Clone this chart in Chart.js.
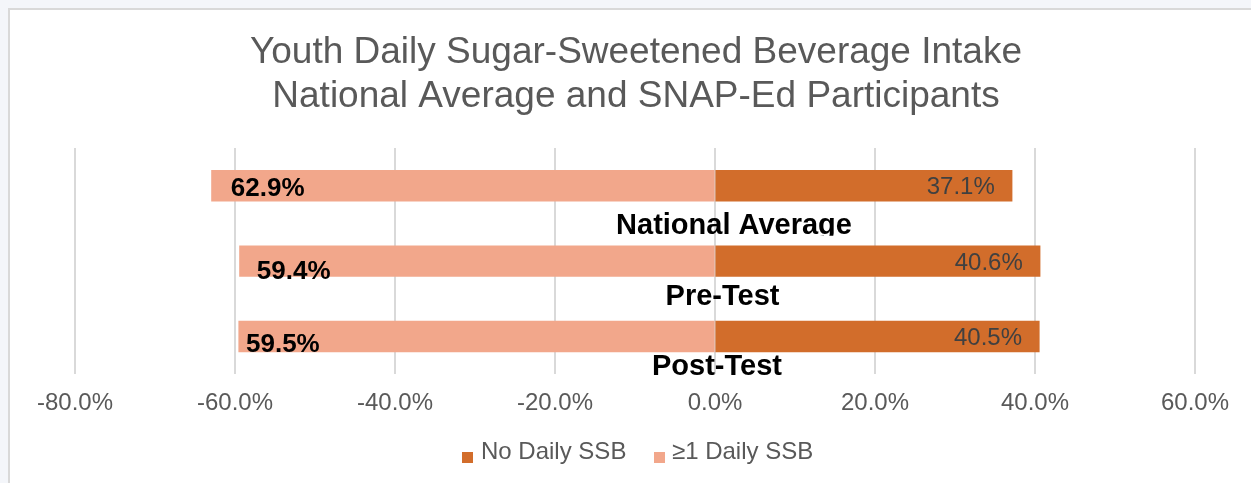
<!DOCTYPE html>
<html>
<head>
<meta charset="utf-8">
<script src="https://cdn.jsdelivr.net/npm/chart.js@4/dist/chart.umd.min.js"></script>
<style>
  html, body { margin: 0; padding: 0; background: #f4f6fa; width: 1251px; height: 483px; overflow: hidden; }
  #frame { position: absolute; left: 8px; top: 8px; width: 1300px; height: 520px; background: #ffffff; border-left: 2px solid #d9d9d9; border-top: 2px solid #d9d9d9; }
  #wrap { position: absolute; left: 0; top: 0; width: 1251px; height: 483px; }
</style>
</head>
<body>
<div id="frame"></div>
<div id="wrap"><canvas id="c" width="1251" height="483"></canvas></div>
<script>
const categories = ["National Average", "Pre-Test", "Post-Test"];
const noDailySSB = [37.1, 40.6, 40.5];
const oneOrMoreDailySSB = [62.9, 59.4, 59.5];
const seriesNames = ["No Daily SSB", "\u22651 Daily SSB"];
const titleLines = ["Youth Daily Sugar-Sweetened Beverage Intake", "National Average and SNAP-Ed Participants"];
const axisMin = -80, axisMax = 60, axisStep = 20;

const DARK = "#D26D2B";
const LIGHT = "#F2A78B";
const FONT = "'Liberation Sans', Arial, sans-serif";

const customDraw = {
  id: "customDraw",
  afterDatasetsDraw(chart) {
    const ctx = chart.ctx;
    const xs = chart.scales.x;
    ctx.save();
    // title
    ctx.fillStyle = "#595959";
    ctx.font = "37px " + FONT;
    ctx.textAlign = "center";
    ctx.textBaseline = "alphabetic";
    ctx.fillText(titleLines[0], 636, 63);
    ctx.fillText(titleLines[1], 636, 107);

    // data labels
    const mNo = chart.getDatasetMeta(0);
    const mOne = chart.getDatasetMeta(1);
    const leftNudge = [[19, 10], [17, 18], [7, 15]];
    mOne.data.forEach((bar, i) => {
      ctx.font = "bold 26px " + FONT;
      ctx.fillStyle = "#000000";
      ctx.textAlign = "left";
      ctx.fillText(oneOrMoreDailySSB[i].toFixed(1) + "%", bar.x + leftNudge[i][0], bar.y + leftNudge[i][1]);
    });
    mNo.data.forEach((bar, i) => {
      ctx.font = "24px " + FONT;
      ctx.fillStyle = "#404040";
      ctx.textAlign = "right";
      ctx.fillText(noDailySSB[i].toFixed(1) + "%", bar.x - 17, bar.y + 8.5);
    });

    // category labels (at the zero line, below each bar)
    const x0 = xs.getPixelForValue(0);
    const catNudge = [[19, 48], [7.5, 43.5], [2, 38]];
    mNo.data.forEach((bar, i) => {
      const bx = x0 + catNudge[i][0];
      const by = bar.y + catNudge[i][1];
      ctx.save();
      ctx.beginPath();
      ctx.rect(0, by - 40, chart.width, 42);
      ctx.clip();
      ctx.font = "bold 29px " + FONT;
      ctx.fillStyle = "#000000";
      ctx.textAlign = "center";
      ctx.fillText(categories[i], bx, by);
      ctx.restore();
    });

    // legend
    ctx.font = "24px " + FONT;
    ctx.textAlign = "left";
    ctx.fillStyle = DARK;
    ctx.fillRect(462, 452, 11, 11);
    ctx.fillStyle = "#595959";
    ctx.fillText(seriesNames[0], 481, 459);
    ctx.fillStyle = LIGHT;
    ctx.fillRect(654, 452, 11, 11);
    ctx.fillStyle = "#595959";
    ctx.fillText(seriesNames[1], 672, 459);
    ctx.restore();
  }
};

new Chart(document.getElementById("c"), {
  type: "bar",
  data: {
    labels: categories,
    datasets: [
      { label: seriesNames[0], data: noDailySSB, backgroundColor: DARK, borderWidth: 0, inflateAmount: 0.6 },
      { label: seriesNames[1], data: oneOrMoreDailySSB.map(v => -v), backgroundColor: LIGHT, borderWidth: 0, inflateAmount: 0.6 }
    ]
  },
  options: {
    indexAxis: "y",
    responsive: false,
    animation: false,
    devicePixelRatio: 1,
    barPercentage: 0.4,
    categoryPercentage: 1,
    layout: { padding: { top: 148, left: 75, right: 56, bottom: 50 } },
    plugins: { legend: { display: false }, title: { display: false }, tooltip: { enabled: false } },
    scales: {
      x: {
        stacked: true,
        min: axisMin, max: axisMax,
        border: { display: false },
        grid: { color: "#d9d9d9", lineWidth: 2, drawTicks: false },
        ticks: {
          stepSize: axisStep,
          padding: 15,
          color: "#595959",
          font: { family: FONT, size: 24 },
          callback: v => v.toFixed(1) + "%"
        }
      },
      y: {
        stacked: true,
        display: false,
        grid: { display: false }
      }
    }
  },
  plugins: [customDraw]
});
</script>
</body>
</html>
